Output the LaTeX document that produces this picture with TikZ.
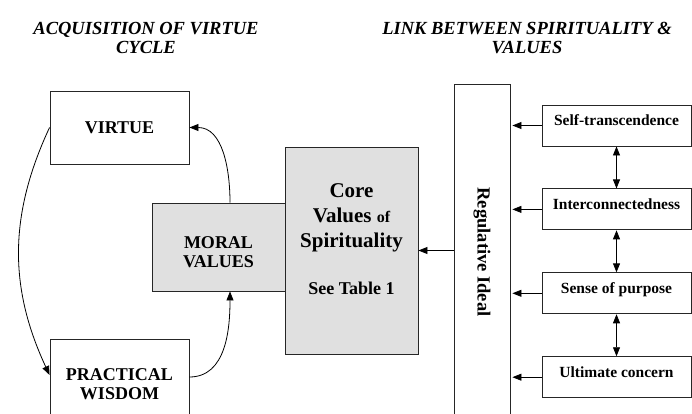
\documentclass[tikz,border=0pt]{standalone}
\usepackage{fontspec}
\setmainfont{Liberation Serif}
\usetikzlibrary{arrows.meta}
\usetikzlibrary{positioning}

\begin{document}
\begin{tikzpicture}[x=1pt,y=-1pt,
    box/.style={draw=black!85,line width=0.9pt,align=center,inner sep=0pt,
                font=\bfseries\fontsize{18}{19}\selectfont},
    dotbox/.style={box,fill=black!12},
    side/.style={box,minimum width=149pt,minimum height=41pt,text height=8pt,text depth=8pt,
                 font=\bfseries\fontsize{15.5}{17}\selectfont},
    head/.style={align=center,font=\bfseries\itshape\fontsize{18.5}{19}\selectfont},
    tip/.style={-{Triangle[length=9pt,width=7pt]}},
    twotip/.style={{Triangle[length=9pt,width=7pt]}-{Triangle[length=9pt,width=7pt]}}]
  \clip (0,0) rectangle (692,414);
  \node[head] (acq) at (146,38) {ACQUISITION OF VIRTUE\\CYCLE};
  \node[head] (link) at (527,38) {LINK BETWEEN SPIRITUALITY \&\\VALUES};
  \node[box,minimum width=139pt,minimum height=73pt] (vir) at (119.5,127.5) {VIRTUE};
  \node[box,minimum width=139pt,minimum height=90pt] (wis) at (119.5,384) {PRACTICAL\\WISDOM};
  \node[dotbox,minimum width=133pt,minimum height=88pt,text height=41pt] (mor) at (218.5,247) {MORAL\\VALUES};
  \node[dotbox,minimum width=133pt,minimum height=207pt,text depth=23pt,
        font=\bfseries\fontsize{21}{25}\selectfont] (core) at (351.5,250.5)
       {Core\\Values {\fontsize{16}{25}\selectfont of}\\Spirituality\\[22pt]{\fontsize{18}{25}\selectfont See Table 1}};
  \node[box,minimum width=56pt,minimum height=336pt,
        label={[rotate=-90,font=\bfseries\fontsize{18.5}{20}\selectfont]center:Regulative Ideal}] (reg) at (482,252) {};
  \node[side] (st) at (616.5,125.5) {Self-transcendence};
  \node[side,below=42pt of st] (ic) {Interconnectedness};
  \node[side,below=42pt of ic] (sp) {Sense of purpose};
  \node[side,below=42pt of sp] (uc) {Ultimate concern};
  \path[tip,line width=0.8pt]
    (vir.west) edge [out=-115,in=115] ([yshift=9pt]wis.west)
    ([xshift=11.5pt]mor.north) edge [out=90,in=0] (vir.east)
    ([yshift=7pt]wis.east) edge [out=0,in=-90] ([xshift=11.5pt]mor.south)
    (reg.west |- core) edge (core.east)
    (st.west) edge [shorten >=2pt] (st.west -| reg.east)
    (ic.west) edge [shorten >=2pt] (ic.west -| reg.east)
    (sp.west) edge [shorten >=2pt] (sp.west -| reg.east)
    (uc.west) edge [shorten >=2pt] (uc.west -| reg.east);
  \path[twotip,line width=0.8pt]
    (st) edge (ic)
    (ic) edge (sp)
    (sp) edge (uc);
\end{tikzpicture}
\end{document}
